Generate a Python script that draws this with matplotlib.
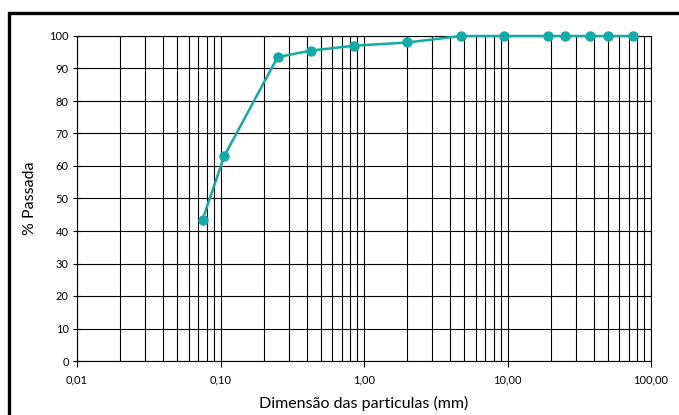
import matplotlib
matplotlib.use("Agg")
import matplotlib.pyplot as plt
from matplotlib.ticker import FixedLocator, LogLocator, NullFormatter
from matplotlib.patches import Rectangle

sizes_mm = [0.075, 0.106, 0.25, 0.425, 0.85, 2.0, 4.75, 9.5, 19.0, 25.0, 37.5, 50.0, 75.0]
passing = [43.5, 63.0, 93.5, 95.5, 97.0, 98.0, 100.0, 100.0, 100.0, 100.0, 100.0, 100.0, 100.0]
x_ticks = [0.01, 0.1, 1, 10, 100]
x_tick_labels = ["0,01", "0,10", "1,00", "10,00", "100,00"]
y_ticks = list(range(0, 101, 10))

plt.rcParams['font.family'] = ['Lato', 'DejaVu Sans']

fig = plt.figure(figsize=(6.79, 4.15), dpi=100)
ax = fig.add_axes([77/679, 1-361/415, (651-77)/679, (361-36)/415])

ax.set_xscale('log')
ax.set_xlim(0.01, 100)
ax.set_ylim(0, 100)

ax.xaxis.set_major_locator(FixedLocator(x_ticks))
ax.set_xticklabels(x_tick_labels)
ax.xaxis.set_minor_locator(LogLocator(base=10, subs=range(2, 10), numticks=50))
ax.xaxis.set_minor_formatter(NullFormatter())
ax.set_yticks(y_ticks)

ax.grid(True, which='both', axis='x', color='black', lw=0.8)
ax.grid(True, which='major', axis='y', color='black', lw=0.8)
ax.set_axisbelow(True)

ax.tick_params(axis='x', which='major', direction='out', length=4, width=0.8, labelsize=8, pad=6)
ax.tick_params(axis='x', which='minor', length=0)
ax.tick_params(axis='y', which='major', direction='inout', length=6, width=0.8, labelsize=8, pad=3)

for s in ax.spines.values():
    s.set_color('black')
    s.set_linewidth(0.8)

ax.plot(sizes_mm, passing, color='#14AAA8', lw=1.8, marker='o', markersize=6.5,
        markerfacecolor='#14AAA8', markeredgecolor='#14AAA8', clip_on=False, zorder=5)

ax.set_ylabel('% Passada', fontsize=11.5, labelpad=9)
fig.text(364/679, 1-403/415, 'Dimensão das particulas (mm)', ha='center', va='center', fontsize=11.5)

fig.patches.append(Rectangle((8.5/679, -0.05), 1.2, 1-12.5/415+0.05, transform=fig.transFigure,
                             fill=False, edgecolor='black', lw=2.4, clip_on=False))

fig.savefig('out.png', dpi=100)
